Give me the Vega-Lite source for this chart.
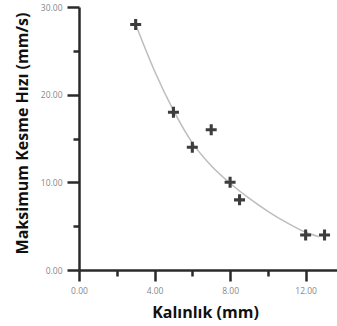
{
  "$schema": "https://vega.github.io/schema/vega-lite/v6.json",
  "width": 258,
  "height": 263,
  "autosize": "none",
  "padding": {"left": 79, "top": 7, "right": 0, "bottom": 56},
  "background": "white",
  "config": {
    "view": {"stroke": null},
    "axis": {
      "grid": false,
      "domain": true,
      "domainColor": "#2a2a2a",
      "domainOpacity": 1,
      "domainWidth": 2.5,
      "ticks": true,
      "tickColor": "#2a2a2a",
      "tickOpacity": 1,
      "tickWidth": 2.5,
      "labelFont": "Open Sans",
      "labelFontSize": 8.5,
      "labelColor": "#888888",
      "labelFlush": false,
      "labelOverlap": false,
      "titleFont": "Open Sans",
      "titleFontSize": 16,
      "titleFontWeight": "bold",
      "titleColor": "#111111"
    }
  },
  "datasets": {
    "pts": [
      {"x": 3, "y": 28},
      {"x": 5, "y": 18},
      {"x": 6, "y": 14},
      {"x": 7, "y": 16},
      {"x": 8, "y": 10},
      {"x": 8.5, "y": 8},
      {"x": 12, "y": 4},
      {"x": 13, "y": 4}
    ],
    "fit": [
      {"x": 3, "y": 28},
      {"x": 4, "y": 22.7},
      {"x": 5, "y": 18.2},
      {"x": 6, "y": 14.5},
      {"x": 7, "y": 11.9},
      {"x": 8, "y": 9.9},
      {"x": 9, "y": 8.2},
      {"x": 10, "y": 6.7},
      {"x": 11, "y": 5.4},
      {"x": 12, "y": 4.3},
      {"x": 12.7, "y": 3.8}
    ]
  },
  "encoding": {
    "x": {
      "field": "x", "type": "quantitative",
      "scale": {"domain": [0, 13.66], "nice": false, "zero": false},
      "axis": {
        "values": [0, 2, 4, 6, 8, 10, 12],
        "labelExpr": "datum.value % 4 === 0 ? format(datum.value, '.2f') : ''",
        "tickSize": {"condition": {"test": "datum.value % 4 === 0", "value": 11}, "value": 6},
        "domainColor": "#2a2a2a",
        "domainWidth": 2.5,
        "tickColor": "#2a2a2a",
        "tickWidth": 2.5,
        "labelPadding": 5,
        "title": "Kalınlık (mm)", "titleX": 126, "titleY": 47.5, "titleBaseline": "alphabetic",
        "orient": "bottom"
      }
    },
    "y": {
      "field": "y", "type": "quantitative",
      "scale": {"domain": [0, 30], "nice": false},
      "axis": {
        "values": [0, 5, 10, 15, 20, 25, 30],
        "labelExpr": "datum.value % 10 === 0 ? format(datum.value, '.2f') : ''",
        "tickSize": {"condition": {"test": "datum.value % 10 === 0", "value": 12}, "value": 6},
        "domainColor": "#2a2a2a",
        "domainWidth": 2.5,
        "tickColor": "#2a2a2a",
        "tickWidth": 2.5,
        "labelPadding": 5,
        "title": "Maksimum Kesme Hızı (mm/s)", "titleX": -52, "titleY": 126, "titleBaseline": "alphabetic",
        "orient": "left"
      }
    }
  },
  "layer": [
    {
      "data": {"name": "fit"},
      "mark": {"type": "line", "color": "#bdbdbd", "strokeWidth": 1.5, "interpolate": "monotone"}
    },
    {
      "data": {"name": "pts"},
      "mark": {"type": "point", "shape": "M-1,-0.28H1V0.28H-1Z M-0.28,-1H0.28V1H-0.28Z", "filled": true, "color": "#3d3d3d", "size": 121, "opacity": 1}
    }
  ]
}
